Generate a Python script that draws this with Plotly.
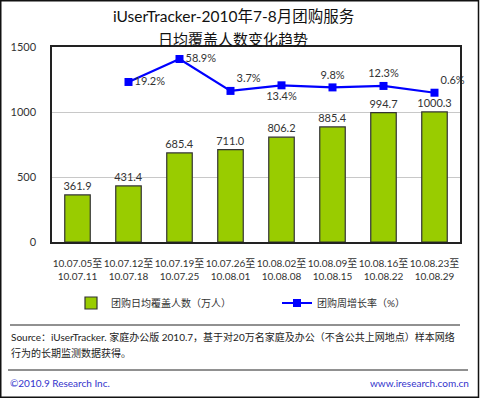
import plotly.graph_objects as go

categories = ["10.07.05至<br>10.07.11", "10.07.12至<br>10.07.18", "10.07.19至<br>10.07.25",
              "10.07.26至<br>10.08.01", "10.08.02至<br>10.08.08", "10.08.09至<br>10.08.15",
              "10.08.16至<br>10.08.22", "10.08.23至<br>10.08.29"]
coverage = [361.9, 431.4, 685.4, 711.0, 806.2, 885.4, 994.7, 1000.3]
growth = [None, 19.2, 58.9, 3.7, 13.4, 9.8, 12.3, 0.6]
growth_labels = ["", "19.2%", "58.9%", "3.7%", "13.4%", "9.8%", "12.3%", "0.6%"]
growth_pos = ["top right", "middle right", "middle right", "top right", "bottom center",
              "top center", "top center", "top right"]

FONT = "Lato, 'Noto Sans CJK SC', sans-serif"
TXT = "#333333"

L, R, T, B = 52, 460, 47, 242
PW, PH = R - L, B - T


def px(x):
    return (x - L) / PW


def py(y):
    return (B - y) / PH


fig = go.Figure()
fig.add_trace(go.Bar(
    x=categories, y=coverage, name="团购日均覆盖人数（万人）",
    marker=dict(color="#99cc00", line=dict(color="#333333", width=1.2)),
    width=0.5, legend="legend",
    text=[f"{v:.1f}" for v in coverage], textposition="outside",
    constraintext="none",
    textfont=dict(size=11, color=TXT, family=FONT), cliponaxis=False,
))
fig.add_trace(go.Scatter(
    x=categories, y=growth, name="团购周增长率（%）", yaxis="y2", legend="legend2",
    mode="lines+markers+text",
    line=dict(color="#0000ff", width=2.2),
    marker=dict(symbol="square", size=8, color="#0000ff"),
    text=growth_labels, textposition=growth_pos,
    textfont=dict(size=11, color=TXT, family=FONT), cliponaxis=False,
))

fig.update_layout(
    width=480, height=398,
    margin=dict(l=L, r=480 - R, t=T, b=398 - B, autoexpand=False),
    paper_bgcolor="white", plot_bgcolor="white",
    font=dict(family=FONT, size=11, color=TXT),
    showlegend=True,
    legend=dict(orientation="h", x=px(71), xanchor="left", y=py(303), yanchor="middle",
                font=dict(size=10, color=TXT), itemwidth=30, bgcolor="rgba(0,0,0,0)"),
    legend2=dict(orientation="h", x=px(277), xanchor="left", y=py(303), yanchor="middle",
                 font=dict(size=10, color=TXT), itemwidth=30, bgcolor="rgba(0,0,0,0)"),
    bargap=0.5,
    xaxis=dict(showline=True, linecolor="#222222", linewidth=1.5, mirror=True,
               tickfont=dict(size=10, color=TXT), ticks="", ticklabelstandoff=11,
               tickangle=0, automargin=False),
    yaxis=dict(range=[0, 1500], tickvals=[0, 500, 1000, 1500], showgrid=True,
               gridcolor="#c8c8c8", gridwidth=1, showline=True, linecolor="#222222",
               linewidth=1.5, mirror=True, tickfont=dict(size=11, color=TXT),
               ticklabelstandoff=12, zeroline=False, automargin=False),
    yaxis2=dict(overlaying="y", range=[-257.7, 79.7], visible=False),
    shapes=[
        dict(type="rect", xref="paper", yref="paper", x0=px(0.75), x1=px(478.5),
             y0=py(397.25), y1=py(0.75), line=dict(color="#111111", width=1.5)),
        dict(type="line", xref="paper", yref="paper", x0=px(10), x1=px(460),
             y0=py(325), y1=py(325), line=dict(color="#222222", width=1)),
        dict(type="line", xref="paper", yref="paper", x0=px(8), x1=px(468),
             y0=py(370), y1=py(370), line=dict(color="#222222", width=1)),
    ],
    annotations=[
        dict(text="iUserTracker-2010年7-8月团购服务", xref="paper", yref="paper",
             x=px(233), y=py(16), xanchor="center", yanchor="middle", showarrow=False,
             font=dict(size=15.5, color="#111111")),
        dict(text="日均覆盖人数变化趋势", xref="paper", yref="paper",
             x=px(233), y=py(39), xanchor="center", yanchor="middle", showarrow=False,
             font=dict(size=15, color="#111111")),
        dict(text="Source：iUserTracker. 家庭办公版 2010.7，基于对20万名家庭及办公（不含公共上网地点）样本网络",
             xref="paper", yref="paper", x=px(9), y=py(337), xanchor="left",
             yanchor="middle", align="left", showarrow=False,
             font=dict(size=10, color="#222222")),
        dict(text="行为的长期监测数据获得。",
             xref="paper", yref="paper", x=px(9), y=py(353), xanchor="left",
             yanchor="middle", align="left", showarrow=False,
             font=dict(size=10, color="#222222")),
        dict(text="©2010.9 Research Inc.", xref="paper", yref="paper", x=px(8),
             y=py(383), xanchor="left", yanchor="middle", showarrow=False,
             font=dict(size=10, color="#3333cc")),
        dict(text="www.iresearch.com.cn", xref="paper", yref="paper", x=px(471),
             y=py(383), xanchor="right", yanchor="middle", showarrow=False,
             font=dict(size=10, color="#3333cc")),
    ],
)

fig.write_html("out.html", config={"displayModeBar": False},
               post_script="document.body.style.margin='0';")
